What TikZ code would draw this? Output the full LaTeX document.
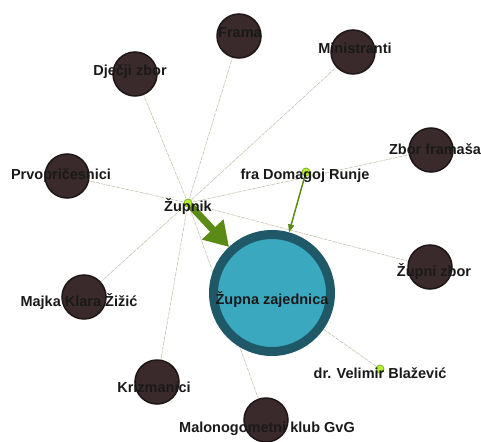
\documentclass[tikz,border=0pt]{standalone}
\usepackage{fontspec}
\setmainfont{Liberation Sans}
\usepackage{xcolor}
\usetikzlibrary{arrows.meta, backgrounds}

\definecolor{nodefill}{HTML}{3A2A2B}
\definecolor{nodeline}{HTML}{1E1516}
\definecolor{ringteal}{HTML}{1F5968}
\definecolor{innerteal}{HTML}{3AA9BF}
\definecolor{edgegray}{HTML}{C6C1AE}
\definecolor{arrowgreen}{HTML}{5C8A17}
\definecolor{dotgreen}{HTML}{B4EE3A}
\definecolor{dotline}{HTML}{7DB41C}

\begin{document}
\begin{tikzpicture}[
    x=1pt, y=-1pt,
    group/.style={circle, draw=nodeline, fill=nodefill, line width=1.5pt, minimum size=44pt, inner sep=0pt},
    person/.style={circle, draw=dotline, fill=dotgreen, line width=0.8pt, minimum size=8pt, inner sep=0pt},
    hub/.style={circle, draw=ringteal, fill=innerteal, line width=9pt, minimum size=117pt, inner sep=0pt},
    lbl/.style={font=\fontsize{14.5}{16}\selectfont\bfseries, text=black!90, inner sep=0pt},
    link/.style={draw=edgegray, line width=0.6pt, dash pattern=on 4pt off 1pt},
    flow/.style={draw=arrowgreen, line width=1.5pt, -{Triangle[width=6pt, length=8pt]}},
    bigflow/.style={draw=arrowgreen, line width=7pt, -{Triangle[width=28pt, length=24pt]}}
]
    \useasboundingbox (0,0) rectangle (481,441);
    \clip (0,14) rectangle (481,441);

    % Upper ring of groups
    \node[group] (frama) at (239,36) {};
    \node[group] (ministranti) at (353,52) {};
    \node[group] (djecji) at (135,74) {};
    \node[group] (zborfr) at (431,150) {};
    \node[group] (prvo) at (67,176) {};

    % People
    \node[person] (zupnik) at (188,203) {};
    \node[person] (domagoj) at (306,172) {};
    \node[person] (velimir) at (380,369) {};

    % Centre
    \node[hub] (zajednica) at (272,293) {};

    % Lower ring of groups
    \node[group] (zupnizbor) at (430,267) {};
    \node[group] (majka) at (84,297) {};
    \node[group] (krizmanici) at (157,382) {};
    \node[group] (malonog) at (266,420) {};

    % Links from Zupnik
    \begin{scope}[on background layer]
        \draw[link] (zupnik.center) -- (djecji);
        \draw[link] (zupnik.center) -- (frama);
        \draw[link] (zupnik.center) -- (ministranti);
        \draw[link] (zupnik.center) -- (zborfr);
        \draw[link] (zupnik.center) -- (prvo);
        \draw[link] (zupnik.center) -- (zupnizbor);
        \draw[link] (zupnik.center) -- (majka);
        \draw[link] (zupnik.center) -- (krizmanici);
        \draw[link] (zupnik.center) -- (malonog);
        \draw[link] (velimir.center) -- (zajednica);
    \end{scope}

    % Arrows into the parish
    \draw[bigflow] (zupnik) -- (zajednica);
    \draw[flow] (domagoj) -- (zajednica);

    % Labels
    \node[lbl] (l-frama) at (240,33) {Frama};
    \node[lbl] (l-ministranti) at (355,48) {Ministranti};
    \node[lbl] (l-djecji) at (130,72) {Dječji zbor};
    \node[lbl] (l-zborfr) at (435,149) {Zbor framaša};
    \node[lbl] (l-prvo) at (61,176) {Prvopričesnici};
    \node[lbl] (l-domagoj) at (305,176) {fra Domagoj Runje};
    \node[lbl] (l-zupnik) at (188,207) {Župnik};
    \node[lbl] (l-zajednica) at (272,300) {Župna zajednica};
    \node[lbl] (l-zupnizbor) at (434,272) {Župni zbor};
    \node[lbl] (l-majka) at (79,302) {Majka Klara Žižić};
    \node[lbl] (l-velimir) at (380,373) {dr. Velimir Blažević};
    \node[lbl] (l-krizmanici) at (154,387) {Krizmanici};
    \node[lbl] (l-malonog) at (267,429) {Malonogometni klub GvG};
\end{tikzpicture}
\end{document}
